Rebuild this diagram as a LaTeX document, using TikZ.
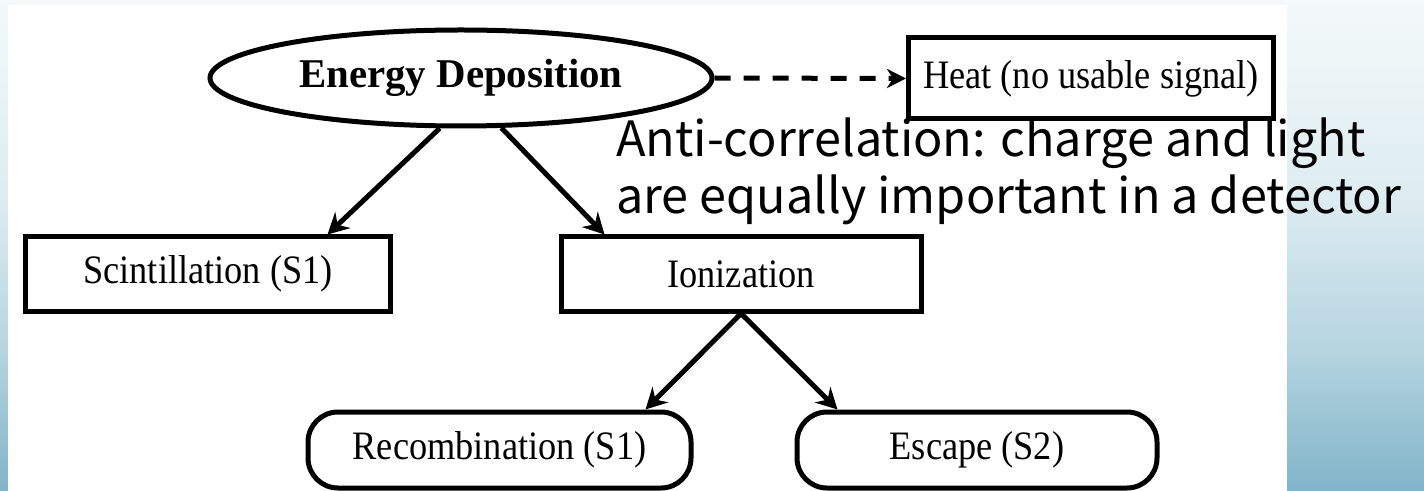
\documentclass[tikz,border=0pt]{standalone}
\usepackage{fontspec}
\setmainfont{Liberation Serif}[FakeStretch=0.9]
\newfontfamily\boldtitle{Liberation Serif}[BoldFont={* Bold}]
\newfontfamily\annofont{Noto Sans CJK JP}
\usetikzlibrary{arrows.meta,shapes.geometric,calc}
\definecolor{bgA}{HTML}{F4F9FA}
\definecolor{bgB}{HTML}{DDECF1}
\definecolor{bgC}{HTML}{B5D4E0}
\definecolor{bgD}{HTML}{80B4C8}
\tikzset{
  boxline/.style={draw=black, line width=5bp},
  procbox/.style={boxline, rectangle, inner sep=0pt, font=\fontsize{40.5}{44}\selectfont},
  termbox/.style={boxline, rectangle, rounded corners=30bp, inner sep=0pt, font=\fontsize{40.5}{44}\selectfont},
  flow/.style={draw=black, line width=5bp, -{Stealth[length=21bp,width=22bp,inset=7bp]}},
  dashflow/.style={draw=black, line width=5bp, dash pattern=on 16bp off 13bp, -{Stealth[length=19bp,width=19bp,inset=6bp]}},
  anno/.style={inner sep=0pt, anchor=base west, font=\annofont\fontsize{48.8}{55}\selectfont}
}
\begin{document}
\begin{tikzpicture}[x=1bp,y=-1bp]
\useasboundingbox (0,0) rectangle (1424,491);
\begin{scope}[y=1bp]
  \shade[top color=bgA, bottom color=bgB] (0,0) rectangle (1424,-200);
  \shade[top color=bgB, bottom color=bgC] (0,-200) rectangle (1424,-350);
  \shade[top color=bgC, bottom color=bgD] (0,-350) rectangle (1424,-492);
  \fill[white] (8,-5) rectangle (1287,-495);
\end{scope}

\node[boxline, ellipse, minimum width=502bp, minimum height=96bp, inner sep=0pt,
      font=\boldtitle\bfseries\fontsize{41}{45}\selectfont] (ell) at (461,78) {Energy Deposition};
\node[procbox, minimum width=365bp, minimum height=81bp] (heat) at (1091,78.5) {Heat (no usable signal)};
\node[procbox, minimum width=364bp, minimum height=74bp] (scint) at (208,274) {Scintillation (S1)};
\node[procbox, minimum width=360bp, minimum height=74bp] (ion) at (741,274) {Ionization};
\node[termbox, minimum width=383bp, minimum height=76bp] (rec) at (499.5,450) {Recombination (S1)};
\node[termbox, minimum width=360bp, minimum height=76bp] (esc) at (977,450) {Escape (S2)};

\node[anno] (anno1) at (616,157) {Anti-correlation: charge and light};
\node[anno] (anno2) at (616,214) {are equally important in a detector};

\coordinate (tS) at ($(scint.north west)+(304,0)$);
\coordinate (tI) at ($(ion.north west)+(46,0)$);
\coordinate (tR) at ($(rec.north east)+(-48,0)$);
\coordinate (tE) at ($(esc.north west)+(43,0)$);

\draw[dashflow] (ell.east) -- (heat.west);
\draw[flow] (ell.247) -- (tS);
\draw[flow] (ell.309) -- (tI);
\draw[flow] (ion.south) -- (tR);
\draw[flow] (ion.south) -- (tE);
\end{tikzpicture}
\end{document}
